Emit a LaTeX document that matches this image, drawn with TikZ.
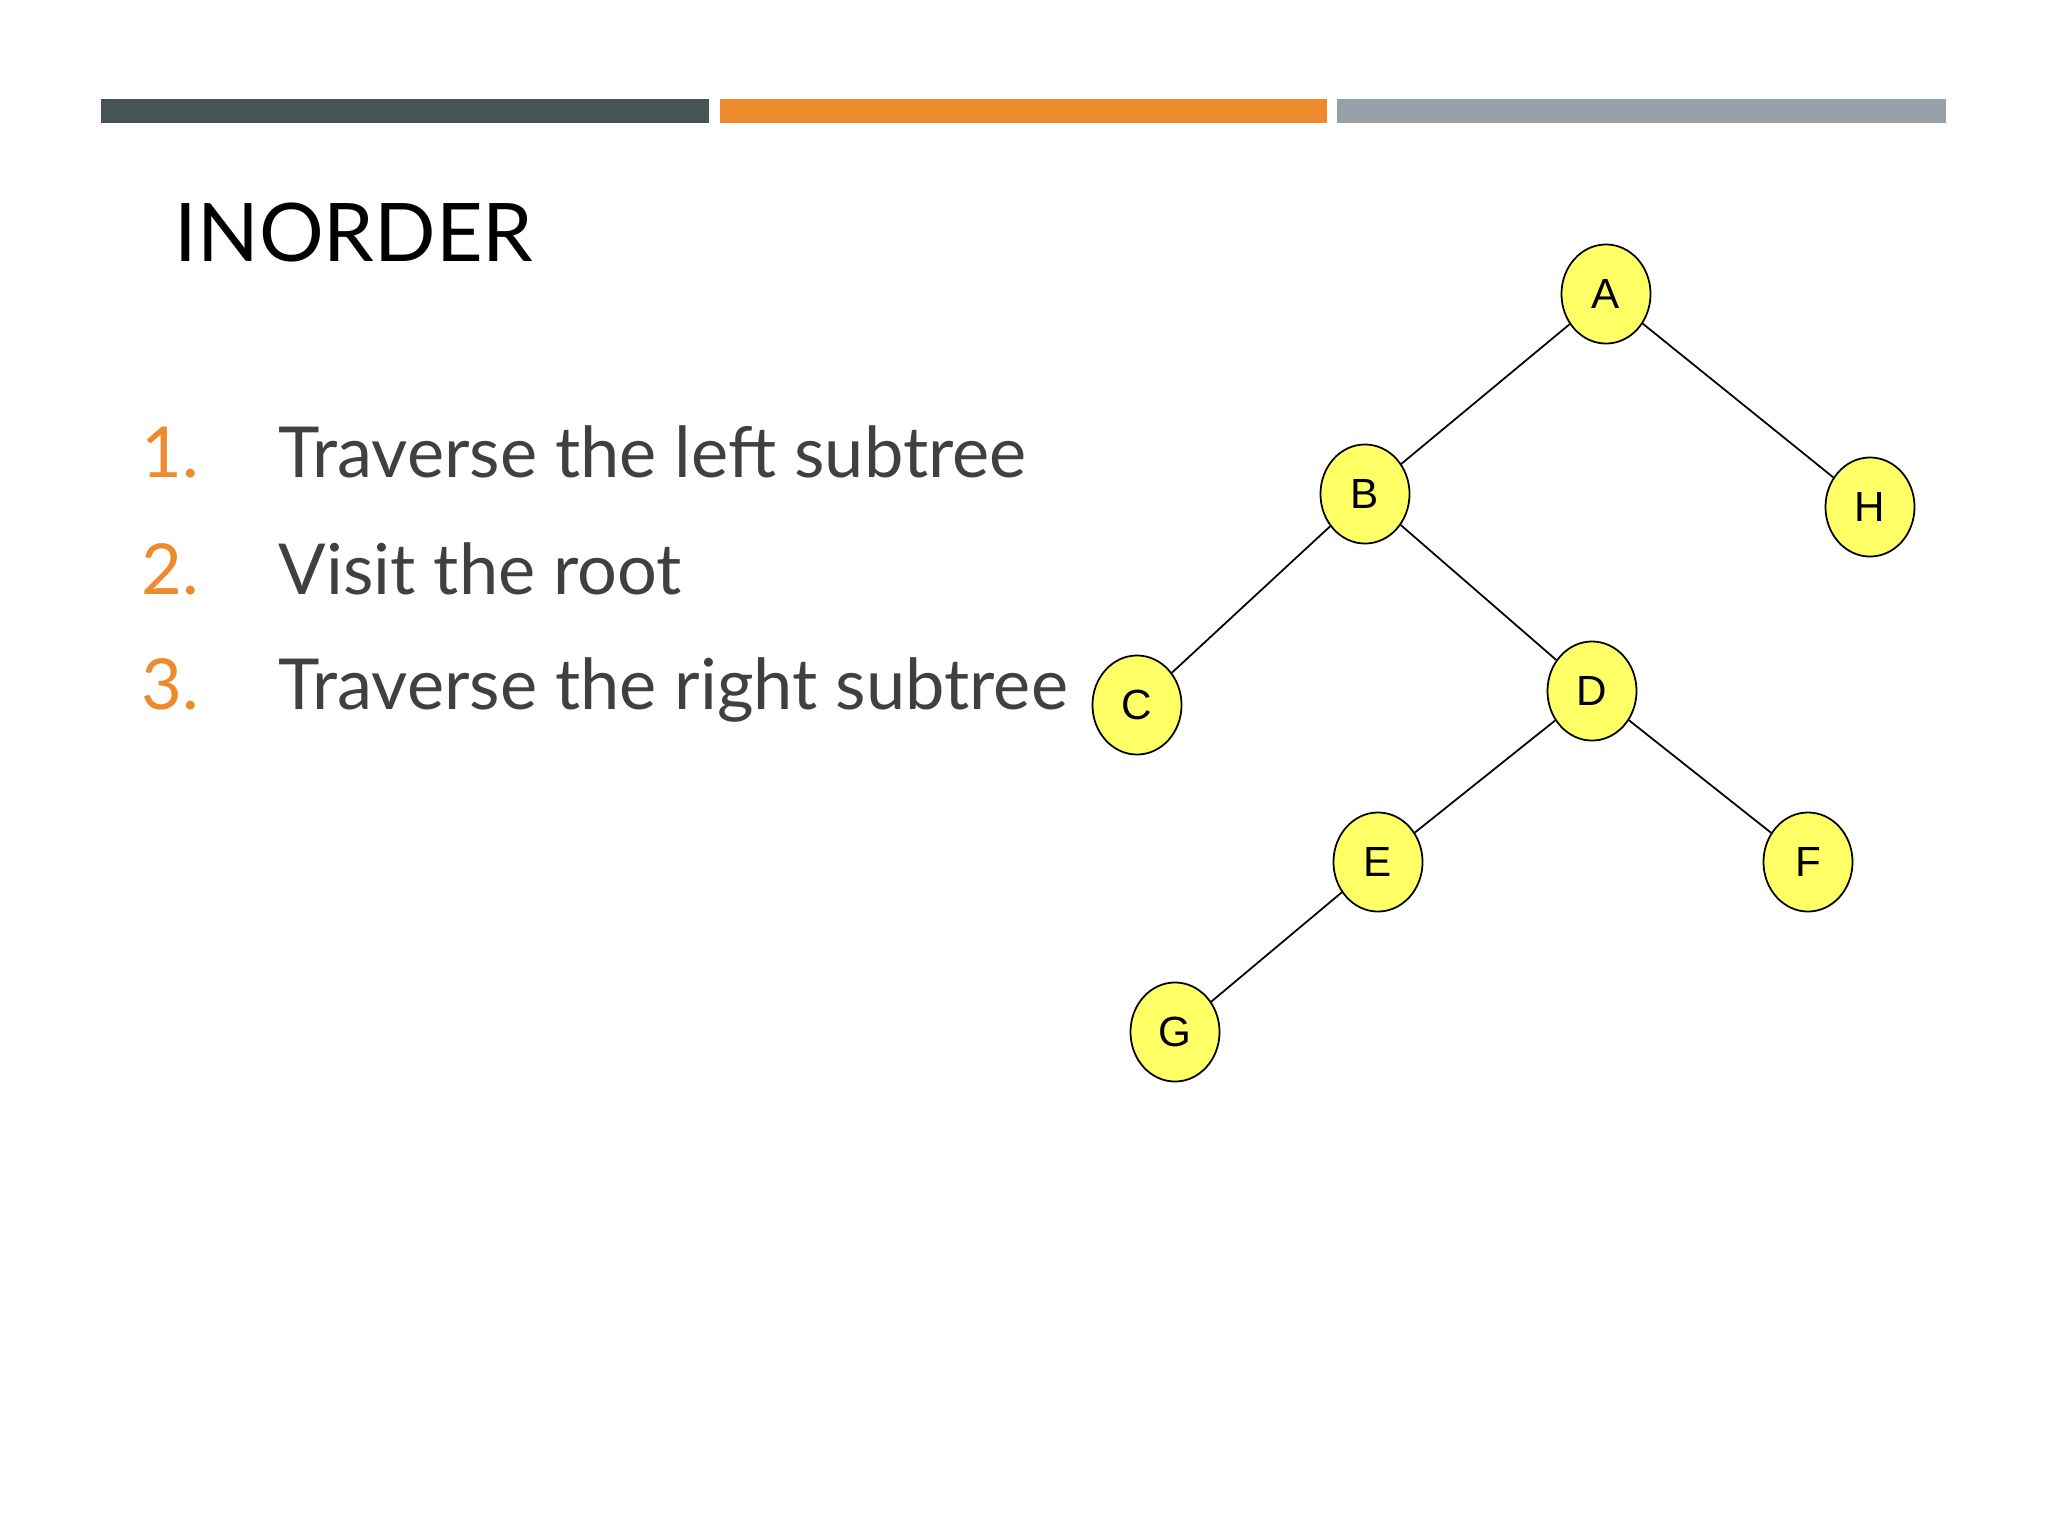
\documentclass[tikz,border=0pt]{standalone}
\usepackage{fontspec}
\setmainfont{Lato}
\newfontfamily\arialf{Liberation Sans}
\usetikzlibrary{shapes.geometric}
\definecolor{bardark}{HTML}{475559}
\definecolor{barorange}{HTML}{EE8A2E}
\definecolor{bargray}{HTML}{97A0A6}
\definecolor{txt}{HTML}{404040}
\definecolor{nodey}{HTML}{FFFF66}
\begin{document}
\begin{tikzpicture}[x=0.01cm,y=-0.01cm,
  tn/.style={ellipse,draw=black,line width=0.5pt,fill=nodey,minimum width=0.89cm,minimum height=0.99cm,inner sep=0pt,font=\arialf\fontsize{12}{14}\selectfont},
  edge/.style={draw=black,line width=0.5pt},
  item/.style={anchor=base west,font=\fontsize{20}{24}\selectfont,text=txt,inner sep=0pt},
  num/.style={anchor=base west,font=\fontsize{20}{24}\selectfont,text=barorange,inner sep=0pt}]
\useasboundingbox (0,0) rectangle (2048,1536);
\fill[bardark] (101,99) rectangle (709,123);
\fill[barorange] (720,99) rectangle (1327,123);
\fill[bargray] (1337,99) rectangle (1946,123);
\node[anchor=base west,inner sep=0pt,font=\fontsize{23}{27}\selectfont] (title) at (174,261) {INORDER};
\node[num] (n1) at (141,477) {1.};
\node[num] (n2) at (141,594) {2.};
\node[num] (n3) at (141,709) {3.};
\node[item] (t1) at (278,477) {Traverse the left subtree};
\node[item] (t2) at (278,594) {Visit the root};
\node[item] (t3) at (278,709) {Traverse the right subtree};
\node[tn] (A) at (1606,294) {A};
\node[tn] (B) at (1365,494) {B};
\node[tn] (H) at (1870,507) {H};
\node[tn] (C) at (1137,705) {C};
\node[tn] (D) at (1592,691) {D};
\node[tn] (E) at (1378,862) {E};
\node[tn] (F) at (1808,862) {F};
\node[tn] (G) at (1175,1032) {G};
\draw[edge] (A) -- (B);
\draw[edge] (A) -- (H);
\draw[edge] (B) -- (C);
\draw[edge] (B) -- (D);
\draw[edge] (D) -- (E);
\draw[edge] (D) -- (F);
\draw[edge] (E) -- (G);
\end{tikzpicture}
\end{document}
